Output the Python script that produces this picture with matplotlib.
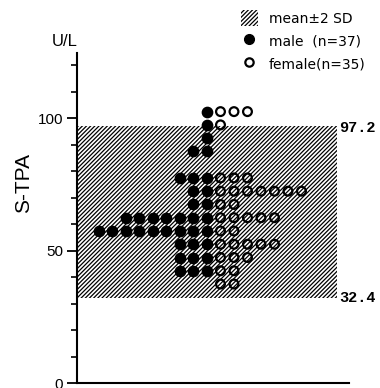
import matplotlib

matplotlib.use("Agg")
from matplotlib import pyplot as plt
from matplotlib.lines import Line2D
from matplotlib.patches import Patch

# S-TPA values (U/L), counted per 5 U/L bin (bin centres)
bin_centres = [102.5, 97.5, 92.5, 87.5, 77.5, 72.5, 67.5, 62.5, 57.5, 52.5, 47.5, 42.5, 37.5]
male_counts = [1, 1, 1, 2, 3, 2, 2, 7, 9, 3, 3, 3, 0]
female_counts = [3, 1, 0, 0, 3, 7, 2, 5, 2, 5, 3, 2, 2]

band_low = 32.4
band_high = 97.2

major_ticks = [0, 50, 100]
minor_ticks = [10, 20, 30, 40, 60, 70, 80, 90, 110, 120]

HATCH = "/" * 8

plt.rcParams["hatch.linewidth"] = 0.9
plt.rcParams["font.family"] = ["Liberation Sans", "DejaVu Sans"]

# dot-plot layout: males stack to the left of column 0, females to the right
male_x, male_y, female_x, female_y = [], [], [], []
for v, nm, nf in zip(bin_centres, male_counts, female_counts):
    for i in range(nm):
        male_x.append(-i)
        male_y.append(v)
    for i in range(nf):
        female_x.append(i + 1)
        female_y.append(v)

fig = plt.figure(figsize=(3.8, 3.88), dpi=100)
ax = fig.add_axes([0.2026, 0.0116, 0.7158, 0.8518])
ax.set_xlim(-9.63, 10.52)
ax.set_ylim(0, 124.6)

ax.axhspan(
    band_low, band_high, xmin=0, xmax=0.956,
    facecolor="white", edgecolor="black", hatch=HATCH, linewidth=0, zorder=1,
)
ax.scatter(male_x, male_y, s=55, c="black", zorder=3)
ax.scatter(
    female_x, female_y, s=40, facecolors="none", edgecolors="black",
    linewidths=1.6, zorder=3,
)

for val, y in [(band_high, 96.4), (band_low, band_low)]:
    ax.text(9.78, y, f"{val:.1f}", fontsize=11, family="Liberation Mono",
            fontweight="bold", va="center", ha="left")

ax.set_yticks(major_ticks)
ax.set_yticks(minor_ticks, minor=True)
ax.set_xticks([])
ax.tick_params(axis="y", which="major", length=7, width=1.3, labelsize=11, pad=3)
ax.tick_params(axis="y", which="minor", length=4.5, width=1.2)
for side in ["top", "right"]:
    ax.spines[side].set_visible(False)
ax.spines["left"].set_linewidth(1.5)
ax.spines["bottom"].set_linewidth(1.5)

fig.text(65 / 380, 1 - 41 / 388, "U/L", fontsize=12, ha="center", va="center")
fig.text(24 / 380, 1 - 183 / 388, "S-TPA", fontsize=15, rotation=90, ha="center", va="center")

handles = [
    Patch(facecolor="white", edgecolor="black", hatch=HATCH, linewidth=0),
    Line2D([], [], ls="", marker="o", color="black", markersize=7),
    Line2D([], [], ls="", marker="o", mfc="none", mec="black", mew=1.6, markersize=6),
]
labels = ["mean\u00b12 SD", "male  (n=37)", "female(n=35)"]
fig.legend(
    handles, labels, loc="upper left", bbox_to_anchor=(241 / 380, 1 - 10 / 388),
    frameon=False, prop={"family": "DejaVu Sans", "size": 10},
    handlelength=1.2, handleheight=1.4, handletextpad=0.8,
    labelspacing=0.5, borderaxespad=0, borderpad=0,
)

fig.savefig("out.png", dpi=100)
